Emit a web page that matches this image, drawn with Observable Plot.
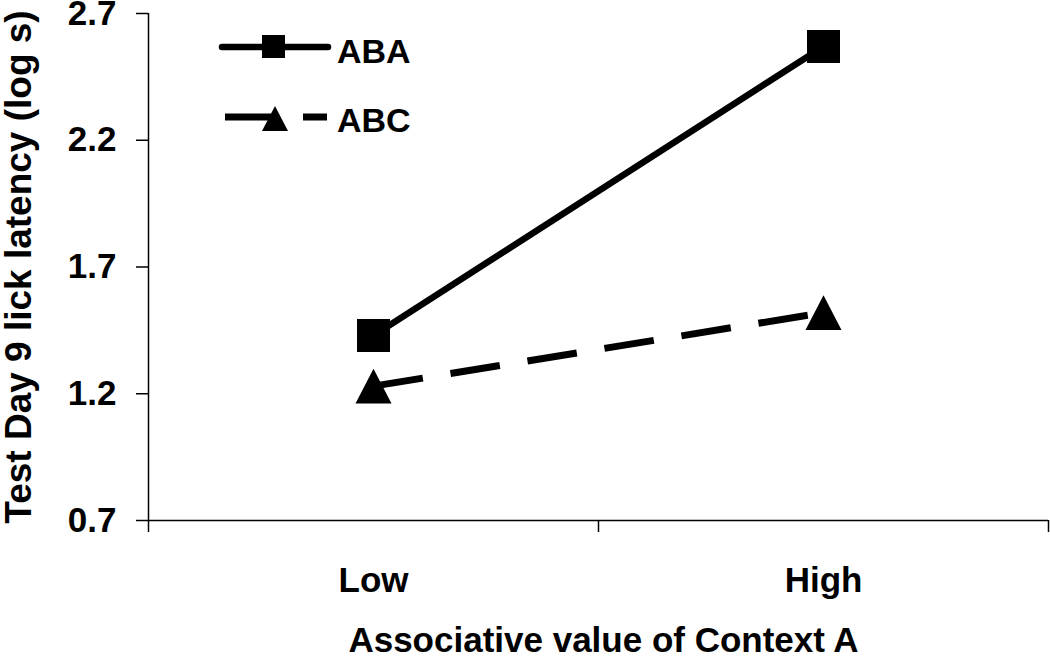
<!DOCTYPE html>
<html>
<head>
<meta charset="utf-8">
<script src="https://cdn.jsdelivr.net/npm/d3@7"></script>
<script src="https://cdn.jsdelivr.net/npm/@observablehq/plot@0.6"></script>
<style>
  html, body { margin: 0; padding: 0; background: #fff; }
  #wrap { position: relative; width: 1050px; height: 660px; }
  #legend { position: absolute; left: 0; top: 0; pointer-events: none; }
</style>
</head>
<body>
<div id="wrap"></div>
<script>
// ---- data ----
const categories = ["Low", "High"];
const seriesNames = ["ABA", "ABC"];
const abaValues = [1.43, 2.57];
const abcValues = [1.23, 1.52];
const yTicks = [0.7, 1.2, 1.7, 2.2, 2.7];
const xTitle = "Associative value of Context A";
const yTitle = "Test Day 9 lick latency (log s)";

const FONT = "'Liberation Sans', Arial, Helvetica, sans-serif";

const aba = categories.map((c, i) => ({series: seriesNames[0], cat: c, pos: i + 0.5, value: abaValues[i]}));
const abc = categories.map((c, i) => ({series: seriesNames[1], cat: c, pos: i + 0.5, value: abcValues[i]}));

// bbox-centred symbols (like spreadsheet markers)
const squareSym = {
  draw(ctx, size) {
    const r = Math.sqrt(size / Math.PI);
    ctx.moveTo(-r, -r); ctx.lineTo(r, -r); ctx.lineTo(r, r); ctx.lineTo(-r, r); ctx.closePath();
  }
};
const triSym = {
  draw(ctx, size) {
    const r = Math.sqrt(size / Math.PI);
    const h = r * 0.97;
    ctx.moveTo(0, -h); ctx.lineTo(r, h); ctx.lineTo(-r, h); ctx.closePath();
  }
};

const chart = Plot.plot({
  width: 1050,
  height: 660,
  marginLeft: 148,
  marginRight: 2,
  marginTop: 13,
  marginBottom: 140,
  style: {fontFamily: FONT, fontSize: "35px", fontWeight: "bold", color: "black", background: "white", overflow: "visible"},
  x: {domain: [0, categories.length]},
  y: {domain: [0.7, 2.7]},
  marks: [
    Plot.axisY(yTicks, {tickSize: 12, tickPadding: 20, strokeWidth: 1.5, tickFormat: d3.format(".1f"), label: null}),
    Plot.axisX([0, 1, 2], {tickSize: 12, strokeWidth: 1.5, tickFormat: () => "", label: null}),
    Plot.ruleX([0], {stroke: "black", strokeWidth: 1.5}),
    Plot.ruleY([0.7], {stroke: "black", strokeWidth: 1.5}),
    Plot.text(categories, {x: (d, i) => i + 0.5, frameAnchor: "bottom", lineAnchor: "middle", dy: 60, fontSize: 35}),
    Plot.text([xTitle], {frameAnchor: "bottom", lineAnchor: "middle", textAnchor: "middle", dx: 5, dy: 120, fontSize: 35}),
    Plot.text([yTitle], {frameAnchor: "left", textAnchor: "middle", lineAnchor: "middle", rotate: -90, dx: -129, dy: 0, fontSize: 37}),
    Plot.line(abc, {x: "pos", y: "value", stroke: "black", strokeWidth: 7, strokeDasharray: "50,28", strokeLinecap: "butt"}),
    Plot.line(aba, {x: "pos", y: "value", stroke: "black", strokeWidth: 6.5, strokeLinecap: "round"}),
    Plot.dot(aba, {x: "pos", y: "value", r: 16.5, symbol: squareSym, fill: "black", stroke: "none"}),
    Plot.dot(abc, {x: "pos", y: "value", r: 18, symbol: triSym, fill: "black", stroke: "none"})
  ]
});
const wrap = document.getElementById("wrap");
wrap.appendChild(chart);

// ---- legend overlay ----
const lg = d3.select(wrap).append("svg").attr("id", "legend").attr("width", 1050).attr("height", 660);
const g1 = lg.append("g");
g1.append("line").attr("x1", 222).attr("x2", 328).attr("y1", 47).attr("y2", 47)
  .attr("stroke", "black").attr("stroke-width", 6.5).attr("stroke-linecap", "round");
g1.append("rect").attr("x", 262).attr("y", 35).attr("width", 23).attr("height", 23).attr("fill", "black");
g1.append("text").attr("x", 337).attr("y", 63).text(seriesNames[0])
  .attr("font-family", FONT).attr("font-weight", "bold").attr("font-size", 34).attr("fill", "black");
const g2 = lg.append("g");
g2.append("line").attr("x1", 225).attr("x2", 327).attr("y1", 117).attr("y2", 117)
  .attr("stroke", "black").attr("stroke-width", 7).attr("stroke-dasharray", "50,28");
g2.append("path").attr("d", "M262,131L288,131L275,106Z").attr("fill", "black");
g2.append("text").attr("x", 337).attr("y", 132).text(seriesNames[1])
  .attr("font-family", FONT).attr("font-weight", "bold").attr("font-size", 34).attr("fill", "black");
</script>
</body>
</html>
